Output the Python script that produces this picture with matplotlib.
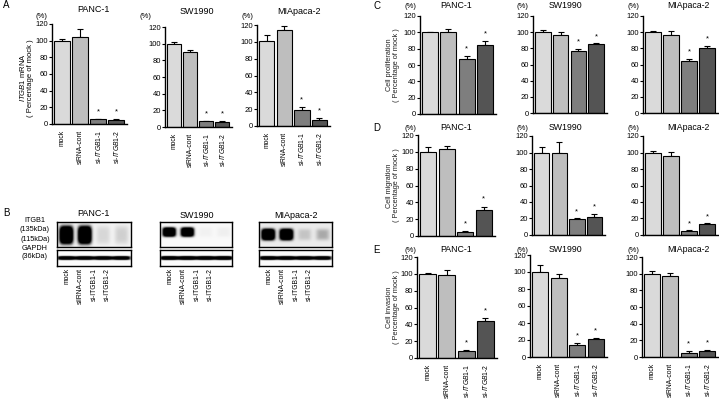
import numpy as np
import matplotlib
matplotlib.use('Agg')
import matplotlib.pyplot as plt

plt.rcParams['font.family'] = ['Liberation Sans', 'DejaVu Sans']
plt.rcParams['mathtext.fontset'] = 'custom'
plt.rcParams['mathtext.rm'] = 'Liberation Sans'
plt.rcParams['mathtext.it'] = 'Liberation Sans:italic'

# data
cell_lines = ['PANC-1', 'SW1990', 'MIApaca-2']
groups = ['mock', 'siRNA-cont', r'si-$\mathit{ITGB1}$-1', r'si-$\mathit{ITGB1}$-2']
blot_groups = ['mock', 'siIRNA-cont', 'si-ITGB1-1', 'si-ITGB1-2']

mrna_mean = [[100, 105, 6, 5], [100, 90, 7, 6], [101, 114, 19, 7]]
mrna_err = [[2, 9, 0.5, 1.5], [2, 3, 0.5, 1], [7, 5, 3, 2]]

prolif_mean = [[100, 101, 67, 84], [100, 97, 77, 85], [100, 97, 64, 80]]
prolif_err = [[1, 3, 4, 5], [3, 3, 2, 1], [2, 5, 3, 3]]

migr_mean = [[100, 103, 5, 31], [100, 100, 19, 22], [100, 96, 5, 13]]
migr_err = [[6, 4, 1, 4], [7, 13, 1, 3], [2, 5, 0.5, 1]]

inv_mean = [[100, 99, 8, 44], [100, 93, 14, 21], [100, 97, 5, 7]]
inv_err = [[1, 6, 2, 3], [8, 5, 2, 1], [3, 4, 2, 1]]

signif = [False, False, True, True]

# western blot band strength per lane (0 = none, 1 = saturated)
itgb1_band = [[1.0, 1.0, 0.10, 0.12], [0.95, 0.95, 0.04, 0.05], [0.95, 0.95, 0.12, 0.18]]
gapdh_band = [[0.85, 0.85, 0.85, 0.85], [0.95, 0.95, 0.95, 0.95], [0.9, 0.9, 0.85, 0.85]]

bar_colors = ['#dadada', '#bebebe', '#7e7e7e', '#545454']

W, H = 719, 403
fig = plt.figure(figsize=(W / 100, H / 100), dpi=100)


def px_axes(l, t, r, b):
    return fig.add_axes([l / W, 1 - b / H, (r - l) / W, (b - t) / H])


def ftext(x, y, s, **kw):
    fig.text(x / W, 1 - y / H, s, **kw)


def bar_panel(box, means, errs, title, title_xy, pct_xy, show_xlabels, title_size=6.5):
    ax = px_axes(*box)
    x = np.arange(len(means))
    ax.bar(x, means, width=0.88, color=bar_colors, edgecolor='black', linewidth=0.8, zorder=2)
    ax.errorbar(x, means, yerr=[np.zeros(len(errs)), errs], fmt='none', ecolor='black',
                elinewidth=0.8, capsize=2.2, capthick=0.8, zorder=1)
    for xi, m, e, s in zip(x, means, errs, signif):
        if s:
            ax.text(xi, m + e + 8.5, '*', ha='center', va='center', fontsize=5.5)
    ax.set_xlim(-0.55, 3.6)
    ax.set_ylim(0, 120)
    ax.set_yticks(range(0, 121, 20))
    ax.tick_params(axis='y', labelsize=5.5, length=2, width=0.8, pad=1)
    ax.spines['top'].set_visible(False)
    ax.spines['right'].set_visible(False)
    ax.spines['left'].set_linewidth(1)
    ax.spines['bottom'].set_linewidth(1)
    ax.set_xticks(x)
    if show_xlabels:
        ax.set_xticklabels(groups, rotation=90, fontsize=4.9, va='top')
        ax.tick_params(axis='x', length=0, pad=4)
    else:
        ax.set_xticklabels([])
        ax.tick_params(axis='x', length=0)
    ftext(title_xy[0], title_xy[1], title, ha='center', va='center', fontsize=title_size)
    ftext(pct_xy[0], pct_xy[1], '(%)', ha='center', va='center', fontsize=5.5)
    return ax


# ---- panel A: ITGB1 mRNA
a_boxes = [(52, 24, 127, 124), (165, 27, 232, 127), (257, 25, 330, 126)]
a_titles = [(93, 9), (197, 12), (299, 12)]
a_pct = [(41, 16), (145, 17), (247, 16)]
for i in range(3):
    bar_panel(a_boxes[i], mrna_mean[i], mrna_err[i], cell_lines[i], a_titles[i], a_pct[i], True)
ftext(6, 5, 'A', ha='center', va='center', fontsize=7)
ftext(26, 78, r'$\mathit{ITGB1}$ mRNA' + '\n( Percentage of mock )', rotation=90,
      ha='center', va='center', fontsize=5.5, linespacing=1.05)

# ---- panels C, D, E
c_boxes = [(420, 16, 496, 114), (533, 16, 607, 113), (643, 16, 718, 113)]
d_boxes = [(418, 135, 495, 236), (532, 136, 605, 235), (643, 136, 718, 235)]
e_boxes = [(417, 257, 497, 358), (530, 255, 607, 357), (642, 257, 718, 357)]
col_title_x = [456, 565, 688]
col_pct_x = [410, 522, 633]

rows = [('C', c_boxes, prolif_mean, prolif_err, 6, 'Cell proliferation', False),
        ('D', d_boxes, migr_mean, migr_err, 128, 'Cell migration', False),
        ('E', e_boxes, inv_mean, inv_err, 250, 'Cell invasion', True)]
for letter, boxes, means, errs, ty, ylab, xl in rows:
    for i in range(3):
        bar_panel(boxes[i], means[i], errs[i], cell_lines[i], (col_title_x[i], ty),
                  (col_pct_x[i], ty), xl, title_size=6.3)
    ftext(377, ty, letter, ha='center', va='center', fontsize=7)
    ymid = (boxes[0][1] + boxes[0][3]) / 2
    ftext(393, ymid, ylab + '\n( Percentage of mock )', rotation=90,
          ha='center', va='center', fontsize=5.3, linespacing=1.05, color='#222222')

# ---- panel B: western blot
ftext(6, 213, 'B', ha='center', va='center', fontsize=7)
blot_boxes = [(57, 131), (160, 232), (259, 332)]
blot_title = [(93, 213), (197, 215), (296, 215)]
itgb1_shape = [(0.52, 0.38), (0.4, 0.2), (0.5, 0.24)]  # vertical centre, half height
itgb1_bg = [0.10, 0.05, 0.15]


def blot_image(strength, yc, hh, bw, bg):
    xs = np.linspace(-0.5, 3.5, 240)
    ys = np.linspace(0, 1, 60)
    img = np.full((60, 240), bg)
    for i, v in enumerate(strength):
        px = np.exp(-((xs - i) / bw) ** 4)
        py = np.exp(-((ys - yc) / hh) ** 4)
        img = img + 1.6 * v * np.outer(py, px)
    return np.clip(img, 0, 1)


for i in range(3):
    l, r = blot_boxes[i]
    ax1 = px_axes(l, 222, r, 247)
    yc, hh = itgb1_shape[i]
    ax1.imshow(blot_image(itgb1_band[i], yc, hh, 0.38, itgb1_bg[i]), cmap='Greys',
               vmin=0, vmax=1, aspect='auto', interpolation='bilinear')
    ax2 = px_axes(l, 250, r, 266)
    ax2.imshow(blot_image(gapdh_band[i], 0.5, 0.13, 0.5, 0.03), cmap='Greys',
               vmin=0, vmax=1, aspect='auto', interpolation='bilinear')
    for ax in (ax1, ax2):
        ax.set_xticks([])
        ax.set_yticks([])
        for sp in ax.spines.values():
            sp.set_linewidth(1)
    ftext(blot_title[i][0], blot_title[i][1], cell_lines[i], ha='center', va='center', fontsize=6.5)
    for j, g in enumerate(blot_groups):
        ftext(l + 10 + 13.5 * j, 268, g, rotation=90, ha='center', va='top', fontsize=4.9)

for txt, yy in [('ITGB1', 221), ('(135kDa)', 230), ('(115kDa)', 239), ('GAPDH', 248), ('(36kDa)', 257)]:
    ftext(35, yy, txt, ha='center', va='center', fontsize=5.2)

fig.savefig('out.png', dpi=100)
